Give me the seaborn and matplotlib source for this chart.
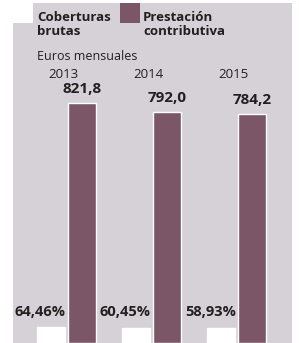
import pandas as pd
import numpy as np
import matplotlib
matplotlib.use('Agg')
import matplotlib.pyplot as plt
import matplotlib.transforms as mtransforms
from matplotlib.patches import Rectangle
import seaborn as sns

# Data
years = ['2013', '2014', '2015']
prestacion = [821.8, 792.0, 784.2]          # euros mensuales
coberturas = [64.46, 60.45, 58.93]           # %
prestacion_labels = ['821,8', '792,0', '784,2']
coberturas_labels = ['64,46%', '60,45%', '58,93%']
series = ['Coberturas brutas', 'Prestación contributiva']

purple = '#7a5667'
panel = '#d5d1d6'

df = pd.DataFrame({
    'year': years * 2,
    'serie': [series[0]] * 3 + [series[1]] * 3,
    'euros': [np.nan] * 3 + prestacion,
    'pct': coberturas + [np.nan] * 3,
})

sns.set_style('white')
plt.rcParams['font.family'] = ['Open Sans', 'DejaVu Sans']

fig = plt.figure(figsize=(2.99, 3.43), dpi=100)
ax = fig.add_axes([13 / 299, 0, 279 / 299, 340 / 343])
ax.set_facecolor(panel)
ax2 = ax.twinx()

pal = {series[0]: 'white', series[1]: purple}
sns.barplot(data=df, x='year', y='euros', hue='serie', hue_order=series,
            palette=pal, width=0.72, gap=0.08, dodge=True, ax=ax,
            legend=False, errorbar=None, saturation=1)
sns.barplot(data=df, x='year', y='pct', hue='serie', hue_order=series,
            palette=pal, width=0.72, gap=0.08, dodge=True, ax=ax2,
            legend=False, errorbar=None, saturation=1)

ax.set_xlim(-0.63, 2.65)
ax.set_ylim(0, 1164)
ax2.set_ylim(0, 1370)

for a in (ax, ax2):
    a.set_xlabel('')
    a.set_ylabel('')
    a.set_xticks([])
    a.set_yticks([])
    for s in a.spines.values():
        s.set_visible(False)

# value labels above purple bars
for i, v in enumerate(prestacion):
    ax.annotate(prestacion_labels[i], (i + 0.18, v), xytext=(0, 5),
                textcoords='offset points', ha='center', va='bottom',
                fontsize=11, fontweight='bold', color='#231f20')

trans = mtransforms.blended_transform_factory(ax.transData, ax.transAxes)
for i, lab in enumerate(coberturas_labels):
    ax.text(i - 0.31, 0.092, lab, transform=trans, ha='center', va='center',
            fontsize=10.5, fontweight='bold', color='#231f20')
    ax.text(i - 0.035, 0.79, years[i], transform=trans, ha='center',
            va='center', fontsize=9.5, color='#231f20')

# legend drawn by hand
fig.patches.append(Rectangle((12 / 299, 1 - 23 / 343), 21 / 299, 20 / 343,
                             transform=fig.transFigure, facecolor='white',
                             edgecolor='none', zorder=5))
fig.patches.append(Rectangle((120 / 299, 1 - 23 / 343), 20 / 299, 20 / 343,
                             transform=fig.transFigure, facecolor=purple,
                             edgecolor='none', zorder=5))
fig.text(37 / 299, 1 - 11 / 343, 'Coberturas\nbrutas', ha='left', va='top',
         fontsize=9.5, fontweight='bold', color='#231f20', linespacing=1.1)
fig.text(143 / 299, 1 - 11 / 343, 'Prestación\ncontributiva', ha='left',
         va='top', fontsize=9.5, fontweight='bold', color='#231f20',
         linespacing=1.1)
fig.text(37 / 299, 1 - 56 / 343, 'Euros mensuales', ha='left', va='center',
         fontsize=9, color='#231f20')

fig.savefig('out.png', dpi=100)
